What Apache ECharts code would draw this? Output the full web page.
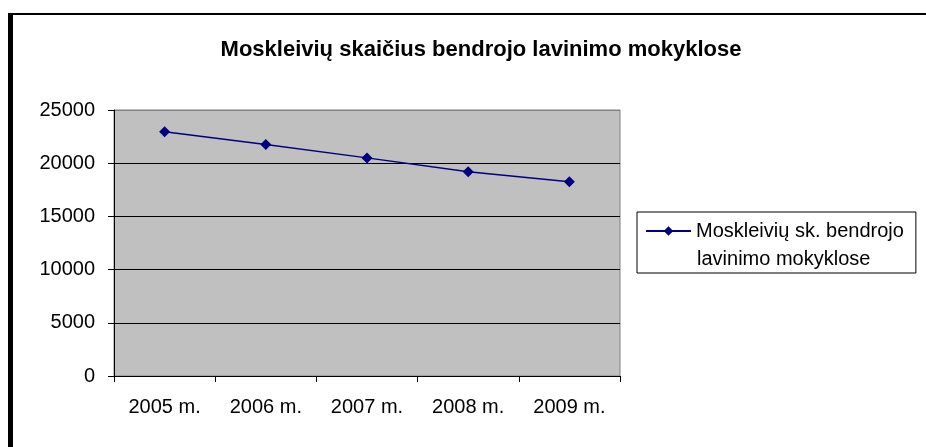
<!DOCTYPE html>
<html>
<head>
<meta charset="utf-8">
<script src="https://cdn.jsdelivr.net/npm/echarts@6/dist/echarts.min.js"></script>
<style>
  html, body { margin: 0; padding: 0; background: #fff; }
  #frame {
    position: absolute; left: 8px; top: 13px; width: 930px; height: 440px;
    border-left: 5px solid #000; border-top: 2px solid #000;
  }
  #main { position: absolute; left: 0; top: 0; width: 926px; height: 447px; }
</style>
</head>
<body>
<div id="frame"></div>
<div id="main"></div>
<script>
  // chart data
  var years = ['2005 m.', '2006 m.', '2007 m.', '2008 m.', '2009 m.']
  var students = [22950, 21750, 20500, 19200, 18250]
  var seriesName = 'Moskleivių sk. bendrojo'
  var seriesName2 = 'lavinimo mokyklose'

  var font = '"Liberation Sans", Arial, sans-serif'
  var chart = echarts.init(document.getElementById('main'))

  chart.setOption({
    backgroundColor: 'transparent',
    animation: false,
    title: {
      text: 'Moskleivių skaičius bendrojo lavinimo mokyklose',
      left: 476,
      top: 34,
      textAlign: 'center',
      textStyle: {
        fontFamily: font,
        fontSize: 22,
        fontWeight: 'bold',
        color: '#000'
      }
    },
    legend: {
      left: 637,
      top: 212,
      orient: 'vertical',
      padding: [9, 12, 32, 8],
      borderColor: '#000',
      borderWidth: 1,
      backgroundColor: '#fff',
      itemWidth: 45,
      itemHeight: 12,
      data: [seriesName],
      textStyle: {
        fontFamily: font,
        fontSize: 20,
        color: '#000'
      }
    },
    // second line of the legend label
    graphic: [{
      type: 'text',
      left: 697,
      top: 249,
      z: 100,
      style: {
        text: seriesName2,
        font: '20px ' + font,
        fill: '#000'
      }
    }],
    grid: {
      left: 114,
      right: 306,
      top: 110,
      bottom: 71,
      show: true,
      backgroundColor: '#C0C0C0',
      borderColor: '#808080',
      borderWidth: 1
    },
    xAxis: {
      type: 'category',
      data: years,
      boundaryGap: true,
      axisLine: { show: true, lineStyle: { color: '#000', width: 1 } },
      axisTick: { show: true, length: 6, lineStyle: { color: '#000' } },
      axisLabel: {
        margin: 21,
        fontFamily: font,
        fontSize: 20,
        color: '#000'
      }
    },
    yAxis: {
      type: 'value',
      min: 0,
      max: 25000,
      interval: 5000,
      axisLine: { show: true, lineStyle: { color: '#000', width: 1 } },
      axisTick: { show: true, length: 6, lineStyle: { color: '#000' } },
      axisLabel: {
        margin: 19,
        fontFamily: font,
        fontSize: 20,
        color: '#000',
        formatter: function (v) { return String(v) }
      },
      splitLine: {
        show: true,
        lineStyle: {
          color: ['#000', '#000', '#000', '#000', '#000', '#808080'],
          width: 1
        }
      }
    },
    series: [{
      name: seriesName,
      type: 'line',
      data: students,
      symbol: 'diamond',
      symbolSize: 11,
      color: '#000080',
      lineStyle: { color: '#000080', width: 1.5 },
      itemStyle: { color: '#000080' }
    }]
  })
</script>
</body>
</html>
